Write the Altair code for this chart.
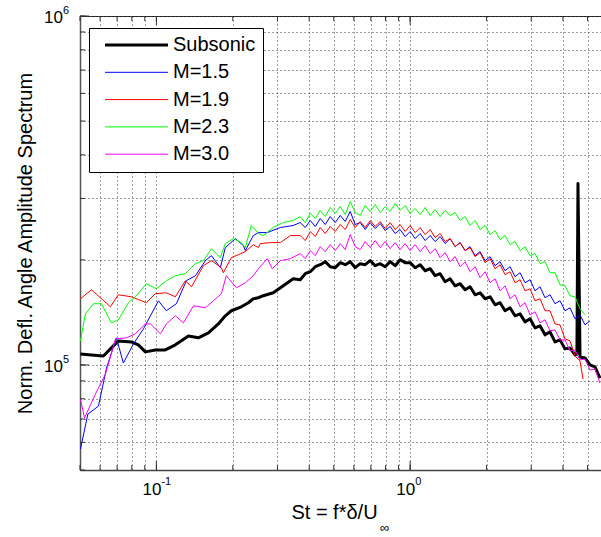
import altair as alt
import pandas as pd

FONT = "Liberation Sans"

SERIES = ["Subsonic", "M=1.5", "M=1.9", "M=2.3", "M=3.0"]
COLORS = ["#000000", "#0000ff", "#ff0000", "#00ff00", "#ff00ff"]
LINE_WIDTHS = [3, 1, 1, 1, 1]

# Shared Strouhal grid for the dense high-frequency part
ST_HI = [0.3688, 0.3860, 0.4040, 0.4227, 0.4423, 0.4628, 0.4842, 0.5067, 0.5302, 0.5548,
         0.5805, 0.6074, 0.6355, 0.6650, 0.6958, 0.7281, 0.7618, 0.7971, 0.8341, 0.8728,
         0.9134, 0.9557, 1.000, 1.046, 1.095, 1.146, 1.199, 1.254, 1.313, 1.373,
         1.437, 1.504, 1.574, 1.646, 1.722, 1.803, 1.886, 1.974, 2.065, 2.161,
         2.261, 2.366, 2.475, 2.590, 2.711, 2.836, 2.968, 3.105, 3.249, 3.400,
         3.557, 3.723, 3.895, 4.076, 4.265, 4.463, 4.670, 4.887, 5.113, 5.350, 5.598]

# Subsonic
BLACK_ST_LO = [0.0502, 0.0555, 0.0618, 0.0659, 0.0708, 0.0797, 0.0849, 0.0905, 0.0991, 0.1084,
               0.1188, 0.1337, 0.1463, 0.1603, 0.1754, 0.1869, 0.1974, 0.2161, 0.2303, 0.241,
               0.2522, 0.2637, 0.2888, 0.3162, 0.3461]
BLACK_Y_LO = [107500, 106800, 106100, 111200, 117200, 116400, 114200, 109000, 110400, 110400,
              114200, 121100, 119600, 123600, 131100, 138300, 143000, 146800, 150800, 154800,
              155800, 157900, 161000, 168600, 176600]
BLACK_SPIKE_ST = [4.54, 4.585]
BLACK_Y_HI = [175500, 182600, 185000, 191200, 193800, 197700, 191200, 190000, 196400, 193800,
              197700, 190000, 195100, 193800, 199000, 192500, 195100, 191200, 197700, 192500,
              200300, 196400, 196400, 190000, 193800, 186200, 188700, 180200, 182600, 173200,
              176600, 168600, 170900, 164200, 167500, 158900, 161000, 154800, 156800, 148700,
              150800, 143000, 145800, 138300, 140100, 132900, 135600, 127700, 129500, 122000,
              124400, 116400, 118000, 111200, 111900, 106800,
              107500, 331000,
              105400, 104700, 100000, 98700, 91700]

# M=1.5
BLUE_ST_LO = [0.0502, 0.0537, 0.0591, 0.0636, 0.0696, 0.0741, 0.0812, 0.0889, 0.1019, 0.1094,
              0.1199, 0.1312, 0.1425, 0.156, 0.1647, 0.1787, 0.1869, 0.2048, 0.2201, 0.2241,
              0.241, 0.2522, 0.2735, 0.308, 0.3461]
BLUE_Y_LO = [57400, 72300, 76200, 98000, 119600, 101300, 114900, 126900, 152700, 143000,
             149800, 174300, 180200, 199000, 205700, 190000, 216900, 230200, 219800, 212600,
             234900, 239500, 239500, 247700, 251000]
BLUE_Y_HI = [255900, 247600, 259400, 249300, 262800, 252600, 266200, 255900, 268100, 257700,
             275300, 252600, 255900, 244400, 255900, 246000, 254300, 242800, 249300, 238000,
             244400, 233300, 241200, 230200, 238000, 227200, 234900, 225700, 233300, 222700,
             230200, 218300, 224200, 212600, 218300, 205700, 211200, 199000, 204400, 192500,
             197700, 186200, 191200, 179000, 183800, 172000, 175500, 163100, 167500, 155800,
             158900, 149800, 152700, 143000, 145800, 135600, 139200, 130300, 133800]

# M=1.9
RED_ST_LO = [0.0502, 0.0555, 0.0659, 0.0708, 0.0797, 0.0913, 0.0991, 0.1094, 0.1188, 0.13,
             0.1375, 0.1532, 0.1647, 0.1803, 0.1836, 0.1974, 0.2104, 0.2241, 0.241, 0.2522,
             0.2567, 0.2811, 0.308, 0.3373]
RED_Y_LO = [154800, 164200, 146800, 158900, 156800, 150800, 160000, 161000, 156800, 174300,
            167500, 192500, 199000, 190000, 183800, 203000, 207100, 211200, 221200, 216900,
            222700, 224200, 224200, 234900]
RED_END_ST = [4.80]
RED_Y_HI = [234900, 227200, 241200, 233300, 247600, 238000, 249300, 241200, 252600, 244400,
            261100, 247600, 257700, 247600, 259400, 249300, 257700, 246000, 255900, 244400,
            252600, 241200, 251000, 239500, 247600, 236400, 244400, 231800, 238000, 225700,
            230200, 218300, 224200, 212600, 216900, 204400, 209800, 196400, 201700, 188700,
            193800, 181400, 185000, 172000, 175500, 163100, 165300, 152700, 154800, 143000,
            143000, 131100, 130300, 118800, 117200, 106100, 102700,
            91100]

# M=2.3
GREEN_ST_LO = [0.0502, 0.0525, 0.0565, 0.0607, 0.0665, 0.0708, 0.0776, 0.0834, 0.0913, 0.1,
               0.1094, 0.1188, 0.13, 0.1425, 0.1532, 0.1647, 0.1787, 0.1869, 0.2011, 0.2161,
               0.2241, 0.2366, 0.2522, 0.2637, 0.2888, 0.3162, 0.3461]
GREEN_Y_LO = [117200, 140100, 149800, 149800, 132000, 134700, 150800, 157900, 170900, 165300,
              174300, 180200, 182600, 195100, 199000, 215400, 203000, 222700, 230200, 224200,
              216900, 251000, 238000, 234900, 247700, 256000, 259400]
GREEN_Y_HI = [266200, 255900, 271700, 262800, 277100, 266200, 282700, 271700, 284500, 269800,
              294100, 273500, 268100, 286400, 275300, 288300, 273500, 284500, 275300, 290200,
              277100, 286400, 271700, 280800, 269800, 282700, 268100, 278900, 266200, 277100,
              268100, 273500, 259400, 266200, 251000, 259400, 244400, 251000, 236400, 242800,
              228700, 234900, 221200, 225700, 212600, 218300, 205700, 208500, 195100, 197700,
              183800, 183800, 169800, 168600, 157900, 156800, 144800, 139200]

# M=3.0
MAGENTA_ST_LO = [0.0502, 0.0521, 0.0575, 0.063, 0.069, 0.0762, 0.0826, 0.0905, 0.0947, 0.1037,
                 0.1094, 0.1188, 0.1278, 0.14, 0.156, 0.1677, 0.1803, 0.1886, 0.2066, 0.2241,
                 0.241, 0.2522, 0.2735, 0.2862, 0.308, 0.3373]
MAGENTA_Y_LO = [79800, 70500, 82500, 94200, 118800, 119600, 122800, 131100, 131100, 122800,
                131100, 138300, 132000, 147800, 145800, 152700, 160000, 180200, 166400, 172000,
                180200, 188700, 201700, 188700, 199000, 201700]
MAGENTA_Y_HI = [208500, 201700, 212600, 205700, 218300, 211200, 221200, 212600, 222700, 214000,
                236400, 218300, 214000, 225700, 216900, 227200, 216900, 225700, 215400, 224200,
                214000, 222700, 212600, 221200, 211200, 219800, 208500, 215400, 203000, 209800,
                197700, 204400, 191200, 197700, 185000, 191200, 177800, 185000, 172000, 176600,
                163100, 168600, 154800, 158900, 146800, 150800, 139200, 142000, 132000, 134700,
                125200, 126000, 118000, 118000, 109700, 110400, 103400, 104000, 96700, 97400, 88800]

X_GRID = [0.05, 0.06, 0.07, 0.08, 0.09, 0.1, 0.2, 0.3, 0.4, 0.5, 0.6, 0.7, 0.8, 0.9,
          1, 2, 3, 4, 5]
Y_GRID = [50000, 60000, 70000, 80000, 90000, 100000, 200000, 300000, 400000, 500000,
          600000, 700000, 800000, 900000, 1000000]
X_MAJOR = [0.1, 1.0]
Y_MAJOR = [100000, 1000000]
X_LABEL_EXP = ["-1", "0"]
Y_LABEL_EXP = ["5", "6"]

series_xy = {
    "Subsonic": (BLACK_ST_LO + ST_HI[:56] + BLACK_SPIKE_ST + ST_HI[56:], BLACK_Y_LO + BLACK_Y_HI),
    "M=1.5": (BLUE_ST_LO + ST_HI[:59], BLUE_Y_LO + BLUE_Y_HI),
    "M=1.9": (RED_ST_LO + ST_HI[:57] + RED_END_ST, RED_Y_LO + RED_Y_HI),
    "M=2.3": (GREEN_ST_LO + ST_HI[:58], GREEN_Y_LO + GREEN_Y_HI),
    "M=3.0": (MAGENTA_ST_LO + ST_HI, MAGENTA_Y_LO + MAGENTA_Y_HI),
}
frames = []
for name, (st, amp) in series_xy.items():
    assert len(st) == len(amp), name
    frames.append(pd.DataFrame({"st": st, "amp": amp, "series": name}))
data = pd.concat(frames, ignore_index=True)

W, H = 521, 454
xscale = alt.Scale(type="log", domain=[0.05, 5.65], nice=False)
yscale = alt.Scale(type="log", domain=[50000, 1000000], nice=False)
cscale = alt.Scale(domain=SERIES, range=COLORS)
wscale = alt.Scale(type="ordinal", domain=SERIES, range=LINE_WIDTHS)

legend = alt.Legend(
    title=None, orient="none", legendX=9, legendY=12,
    fillColor="white", strokeColor="black", padding=7,
    labelFont=FONT, labelFontSize=20, labelColor="black", labelOffset=53,
    symbolType="M-1,0L11.6,0", symbolSize=100, symbolOffset=4, rowPadding=7.3,
)

xaxis = alt.Axis(values=X_GRID, labels=False, ticks=False, grid=True,
                 title="St = f*δ/U", titleX=254, titleY=48, titleAlign="center",
                 titleBaseline="alphabetic", titleFont=FONT, titleFontSize=20,
                 titleFontWeight="normal", titleColor="black",
                 domainColor="#444", domainWidth=1.5)
yaxis = alt.Axis(values=Y_GRID, labels=False, ticks=False, grid=True,
                 title="Norm. Defl. Angle Amplitude Spectrum", titleX=-55, titleY=H / 2,
                 titleAngle=270, titleAlign="center", titleBaseline="middle",
                 titleFont=FONT, titleFontSize=20, titleFontWeight="normal",
                 titleColor="black", domainColor="#555", domainWidth=1.5)

X = alt.X("st:Q", scale=xscale, axis=xaxis)
Y = alt.Y("amp:Q", scale=yscale, axis=yaxis)

layers = []
for name in SERIES:
    layers.append(
        alt.Chart(data).transform_filter(alt.datum.series == name)
        .mark_line(strokeJoin="round")
        .encode(
            x=X, y=Y,
            color=alt.Color("series:N", scale=cscale, legend=legend),
            strokeWidth=alt.StrokeWidth("series:N", scale=wscale, legend=legend),
        )
    )

xg = pd.DataFrame({"st": X_GRID})
yg = pd.DataFrame({"amp": Y_GRID})
xm = pd.DataFrame({"st": X_MAJOR, "e": X_LABEL_EXP, "b": ["10", "10"]})
ym = pd.DataFrame({"amp": Y_MAJOR, "e": Y_LABEL_EXP, "b": ["10", "10"]})

tick_col = "#333"
ticks = [
    alt.Chart(xg).mark_rule(color=tick_col).encode(x=X, y=alt.value(H), y2=alt.value(H - 5)),
    alt.Chart(xm).mark_rule(color=tick_col).encode(x=X, y=alt.value(H), y2=alt.value(H - 9)),
    alt.Chart(xg).mark_rule(color=tick_col).encode(x=X, y=alt.value(0), y2=alt.value(5)),
    alt.Chart(xm).mark_rule(color=tick_col).encode(x=X, y=alt.value(0), y2=alt.value(9)),
    alt.Chart(yg).mark_rule(color=tick_col).encode(y=Y, x=alt.value(0), x2=alt.value(5)),
    alt.Chart(ym).mark_rule(color=tick_col).encode(y=Y, x=alt.value(0), x2=alt.value(9)),
]

labels = [
    alt.Chart(xm).mark_text(font=FONT, fontSize=17, align="right", baseline="alphabetic", dx=5, color="black")
    .encode(x=X, y=alt.value(H + 25), text="b:N"),
    alt.Chart(xm).mark_text(font=FONT, fontSize=11, align="left", baseline="alphabetic", dx=5, color="black")
    .encode(x=X, y=alt.value(H + 15), text="e:N"),
    alt.Chart(ym).mark_text(font=FONT, fontSize=17, align="right", baseline="alphabetic", dy=7, color="black")
    .encode(y=Y, x=alt.value(-17), text="b:N"),
    alt.Chart(ym).mark_text(font=FONT, fontSize=11, align="left", baseline="alphabetic", dy=-2, color="black")
    .encode(y=Y, x=alt.value(-17), text="e:N"),
    alt.Chart(pd.DataFrame({"t": ["∞"]})).mark_text(font=FONT, fontSize=13, align="left", baseline="alphabetic", color="black")
    .encode(x=alt.value(300), y=alt.value(H + 62), text="t:N"),
]

chart = alt.layer(*layers, *ticks, *labels).properties(
    width=W, height=H,
    autosize=alt.AutoSizeParams(type="none"),
    padding={"left": 80, "top": 16, "right": 0, "bottom": 67},
    background="white",
).configure_view(stroke="#333", strokeWidth=1).configure_axis(
    gridColor="#000", gridDash=[1, 3], gridOpacity=0.75, gridWidth=1
)

chart.save("out.html", embed_options={"renderer": "svg", "actions": False})
